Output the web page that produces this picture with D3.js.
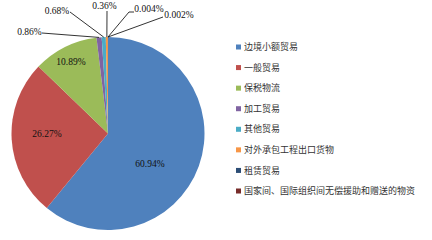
<!DOCTYPE html>
<html>
<head>
<meta charset="utf-8">
<script src="https://cdn.jsdelivr.net/npm/d3@7"></script>
<style>
  body { margin: 0; background: #fff; }
  svg { display: block; }
</style>
</head>
<body>
<div id="chart"></div>
<script>
// categories, values (%) and colours
const categories = ['边境小额贸易', '一般贸易', '保税物流', '加工贸易', '其他贸易',
    '对外承包工程出口货物', '租赁贸易', '国家间、国际组织间无偿援助和赠送的物资'];
const values = [60.94, 26.27, 10.89, 0.86, 0.68, 0.36, 0.004, 0.002];
const valueLabels = ['60.94%', '26.27%', '10.89%', '0.86%', '0.68%', '0.36%', '0.004%', '0.002%'];
const colors = ['#4f81bd', '#c0504d', '#9bbb59', '#8064a2', '#4bacc6', '#f79646', '#2c4d75', '#772c2a'];

const width = 432, height = 240;
const cx = 108, cy = 133.5, radius = 96.5;

const svg = d3.select('#chart').append('svg')
    .attr('width', width)
    .attr('height', height);

const data = categories.map((c, i) => ({ name: c, value: values[i], label: valueLabels[i], color: colors[i] }));

// pie, starts at 12 o'clock, clockwise, keep order
const pie = d3.pie().sort(null).value(d => d.value);
const arcs = pie(data);
const arc = d3.arc().innerRadius(0).outerRadius(radius);

const g = svg.append('g').attr('transform', 'translate(' + cx + ',' + cy + ')');

g.selectAll('path.slice')
    .data(arcs)
    .enter().append('path')
    .attr('class', 'slice')
    .attr('d', arc)
    .attr('fill', d => d.data.color);

// labels inside the big slices (offsets from the centre, like excel's best fit)
const innerAt = [[42, 30.5], [-61, 0.5], [-37, -71.5]];
g.selectAll('text.in')
    .data(arcs.slice(0, 3))
    .enter().append('text')
    .attr('class', 'in')
    .attr('x', (d, i) => innerAt[i][0])
    .attr('y', (d, i) => innerAt[i][1])
    .attr('text-anchor', 'middle')
    .attr('dy', '0.35em')
    .attr('font-family', 'Liberation Serif, serif')
    .attr('font-size', 9.5)
    .attr('fill', '#111')
    .text(d => d.data.label);

// labels for the thin slices, set above the pie with leader lines
const outerPos = [[29.5, 32], [57, 11], [104.5, 6], [149, 9], [179, 15]];
const lineStart = [[42, 33], [70, 12], [107, 11], [[134, 12], [129, 12]], [163, 17]];

arcs.slice(3).forEach((d, i) => {
    const a = (d.startAngle + d.endAngle) / 2;
    const ex = cx + radius * Math.sin(a), ey = cy - radius * Math.cos(a);
    const s = lineStart[i];
    const pts = Array.isArray(s[0]) ? s.concat([[ex, ey]]) : [s, [ex, ey]];
    svg.append('path')
        .attr('d', d3.line()(pts))
        .attr('fill', 'none')
        .attr('stroke', '#000')
        .attr('stroke-width', 0.8);
    svg.append('text')
        .attr('x', outerPos[i][0])
        .attr('y', outerPos[i][1])
        .attr('text-anchor', 'middle')
        .attr('dy', '0.35em')
        .attr('font-family', 'Liberation Serif, serif')
        .attr('font-size', 9.5)
        .attr('fill', '#111')
        .text(d.data.label);
});

// legend
const legendY = d3.scalePoint()
    .domain(categories)
    .range([47, 191]);

const legend = svg.append('g');
const items = legend.selectAll('g')
    .data(data)
    .enter().append('g')
    .attr('transform', d => 'translate(236,' + legendY(d.name) + ')');

items.append('rect')
    .attr('x', 0)
    .attr('y', -2.5)
    .attr('width', 5)
    .attr('height', 5)
    .attr('fill', d => d.color);

items.append('text')
    .attr('x', 8)
    .attr('dy', '0.35em')
    .attr('font-family', 'Noto Sans CJK SC, sans-serif')
    .attr('font-size', 9)
    .attr('fill', '#333')
    .text(d => d.name);
</script>
</body>
</html>
